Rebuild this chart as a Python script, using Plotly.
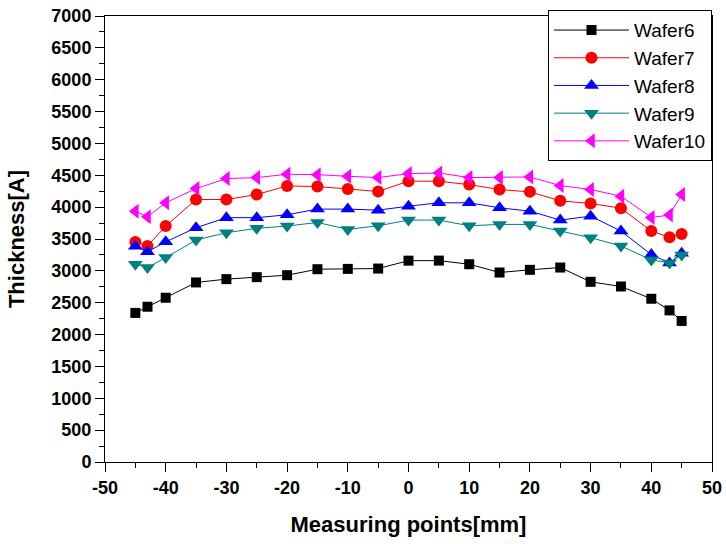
import plotly.graph_objects as go

x_mm = [-45, -43, -40, -35, -30, -25, -20, -15, -10, -5, 0, 5, 10, 15, 20, 25, 30, 35, 40, 43, 45]

wafer6 = [2340, 2437, 2578, 2818, 2870, 2901, 2932, 3026, 3031, 3036, 3160, 3161, 3104, 2974, 3016, 3052, 2828, 2755, 2562, 2380, 2214]
wafer7 = [3453, 3391, 3703, 4120, 4120, 4198, 4333, 4323, 4286, 4245, 4408, 4406, 4354, 4276, 4240, 4099, 4057, 3984, 3625, 3526, 3578]
wafer8 = [3385, 3300, 3455, 3677, 3835, 3835, 3880, 3969, 3969, 3953, 4015, 4068, 4068, 3990, 3937, 3797, 3859, 3625, 3255, 3125, 3276]
wafer9 = [3104, 3052, 3208, 3484, 3599, 3667, 3703, 3760, 3651, 3708, 3797, 3797, 3708, 3729, 3729, 3625, 3521, 3391, 3172, 3125, 3250]
wafer10 = [3937, 3849, 4068, 4292, 4448, 4464, 4516, 4510, 4484, 4464, 4526, 4536, 4464, 4464, 4474, 4339, 4276, 4172, 3839, 3875, 4198]

x_tickvals = [-50, -40, -30, -20, -10, 0, 10, 20, 30, 40, 50]
x_ticktext = ["<b>-50</b>", "<b>-40</b>", "<b>-30</b>", "<b>-20</b>", "<b>-10</b>", "<b>0</b>",
              "<b>10</b>", "<b>20</b>", "<b>30</b>", "<b>40</b>", "<b>50</b>"]

series = [
    ("Wafer6", wafer6, "#000000", "square", 10),
    ("Wafer7", wafer7, "#ff0000", "circle", 12),
    ("Wafer8", wafer8, "#0000ff", "triangle-up", 13),
    ("Wafer9", wafer9, "#008080", "triangle-down", 13),
    ("Wafer10", wafer10, "#ff00ff", "triangle-left", 13),
]

FONT = "Liberation Sans, Arial, sans-serif"

fig = go.Figure()
for name, ys, color, sym, sz in series:
    fig.add_trace(go.Scatter(
        x=x_mm, y=ys, name=name, mode="lines+markers",
        line=dict(color=color, width=1),
        marker=dict(symbol=sym, size=sz, color=color, line=dict(width=0)),
    ))

fig.update_layout(
    width=726, height=544,
    margin=dict(l=105, r=14, t=16, b=82, autoexpand=False),
    paper_bgcolor="white", plot_bgcolor="white",
    font=dict(family=FONT, color="black"),
    legend=dict(
        x=1, xanchor="right", y=1.013, yanchor="top",
        bordercolor="black", borderwidth=1, bgcolor="white",
        font=dict(size=19, family=FONT),
        tracegroupgap=0, itemwidth=75,
    ),
    showlegend=True,
)
fig.update_xaxes(
    range=[-50, 50], tickmode="array", tickvals=x_tickvals, ticktext=x_ticktext,
    ticks="outside", ticklen=9, tickwidth=1, tickcolor="black",
    minor=dict(dtick=5, tick0=-50, ticks="outside", ticklen=5, tickcolor="black"),
    showline=True, linecolor="black", linewidth=1, mirror=True,
    showgrid=False, zeroline=False, automargin=False,
    tickfont=dict(family=FONT, size=18, color="black"),
    title=dict(text="<b>Measuring points[mm]</b>", font=dict(size=22, color="black"), standoff=20),
)
fig.update_yaxes(
    range=[0, 7000], tick0=0, dtick=500,
    tickprefix="<b>", ticksuffix="</b>",
    ticks="outside", ticklen=9, tickwidth=1, tickcolor="black",
    minor=dict(dtick=250, ticks="outside", ticklen=5, tickcolor="black"),
    showline=True, linecolor="black", linewidth=1, mirror=True,
    showgrid=False, zeroline=False, automargin=False,
    tickfont=dict(family=FONT, size=18, color="black"),
    title=dict(text="<b>Thickness[A]</b>", font=dict(size=22, color="black"), standoff=20),
)

fig.write_html("out.html", config={"displayModeBar": False},
               post_script="document.body.style.margin='0';")
